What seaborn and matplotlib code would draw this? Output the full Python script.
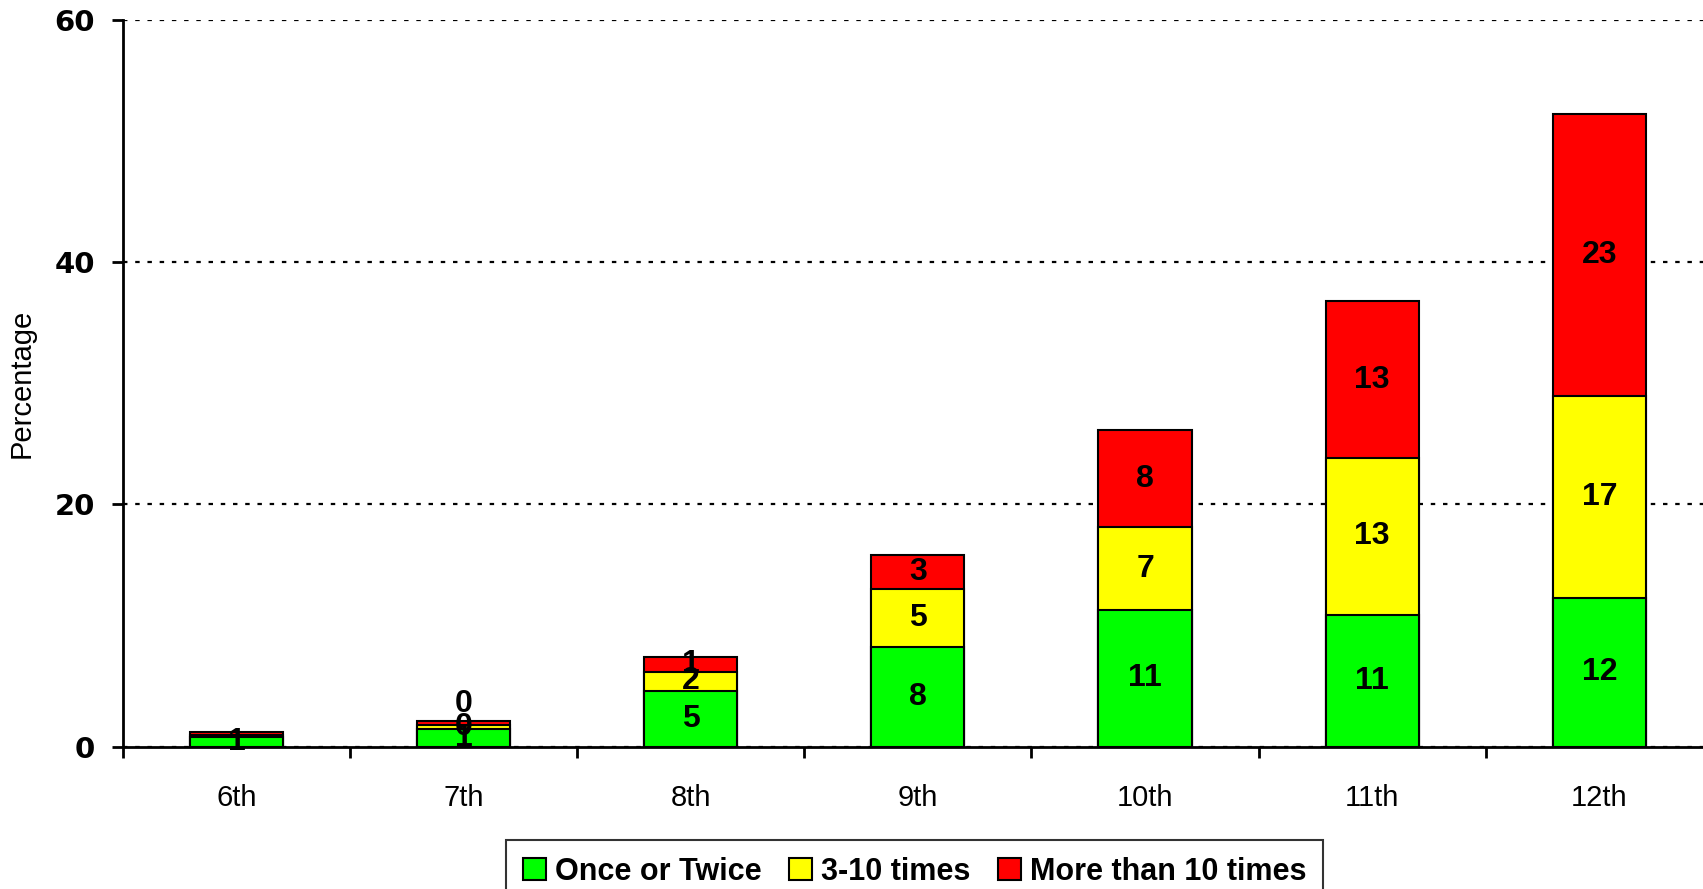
import matplotlib
matplotlib.use("Agg")
import matplotlib.pyplot as plt
from matplotlib.patches import Patch
from matplotlib.ticker import FixedLocator
import seaborn as sns

# data
grades = ["6th", "7th", "8th", "9th", "10th", "11th", "12th"]
once_twice = [0.8, 1.45, 4.6, 8.2, 11.3, 10.9, 12.3]
three_ten = [0.2, 0.35, 1.6, 4.8, 6.8, 12.9, 16.6]
more_ten = [0.25, 0.35, 1.2, 2.8, 8.0, 13.0, 23.3]
series_names = ["Once or Twice", "3-10 times", "More than 10 times"]
colors = ["#00FF00", "#FFFF00", "#FF0000"]

sns.set_style("ticks")
plt.rcParams["font.family"] = ["Liberation Sans", "DejaVu Sans"]
plt.rcParams["text.color"] = "black"
plt.rcParams["axes.labelcolor"] = "black"
plt.rcParams["xtick.color"] = "black"
plt.rcParams["ytick.color"] = "black"

fig = plt.figure(figsize=(17.03, 8.89), dpi=100)
ax = fig.add_axes([0.0722, 0.16, 0.9336, 0.818])

layers = [once_twice, three_ten, more_ten]
# cumulative tops so the taller bars are drawn first (stacked look)
tops = []
run = [0] * len(grades)
for vals in layers:
    run = [a + b for a, b in zip(run, vals)]
    tops.append(run)

for top, col in reversed(list(zip(tops, colors))):
    sns.barplot(x=grades, y=top, color=col, saturation=1, width=0.41,
                edgecolor="black", linewidth=1.5, ax=ax, zorder=3)

# value labels in the middle of each segment
for k, vals in enumerate(layers):
    for i, v in enumerate(vals):
        if v < 0.3:
            continue
        base = tops[k][i] - v
        y = base + v / 2
        off = 0
        if k == len(layers) - 1 and v < 0.5:
            y = tops[k][i]
            off = 12
        ax.annotate(f"{v:.0f}", (i, y), xytext=(0, off), textcoords="offset points",
                    ha="center", va="center", fontsize=23, fontweight="bold",
                    color="black", zorder=5)

ax.set_xlim(-0.5, len(grades) - 0.5)
ax.set_ylim(0, 60)
ax.set_yticks([0, 20, 40, 60])
ax.yaxis.grid(True, color="black", linestyle=(0, (2, 3.5)), linewidth=1.6, zorder=0)
ax.set_axisbelow(True)

for s in ["top", "right"]:
    ax.spines[s].set_visible(False)
for s in ["left", "bottom"]:
    ax.spines[s].set_linewidth(2)
    ax.spines[s].set_color("black")

ax.xaxis.set_minor_locator(FixedLocator([i - 0.5 for i in range(len(grades) + 1)]))
ax.tick_params(axis="x", which="major", length=0, pad=27, labelsize=21)
ax.tick_params(axis="x", which="minor", length=8, width=2, direction="out", color="black")
ax.tick_params(axis="y", length=8, width=2, color="black", pad=12)
for lab in ax.get_yticklabels():
    lab.set_fontfamily("DejaVu Sans")
    lab.set_fontweight("bold")
    lab.set_fontsize(21)

ax.set_xlabel("")
ax.set_ylabel("Percentage", fontsize=21, labelpad=14)

handles = [Patch(facecolor=c, edgecolor="black", linewidth=1.5, label=n)
           for c, n in zip(colors, series_names)]
leg = fig.legend(handles=handles, loc="upper center", bbox_to_anchor=(0.537, 0.055),
                 ncol=3, frameon=True, fancybox=False, edgecolor="black",
                 prop={"weight": "bold", "size": 22}, handlelength=0.75, handleheight=0.75,
                 handletextpad=0.3, columnspacing=0.9, borderpad=0.55, borderaxespad=0)
leg.get_frame().set_linewidth(1.5)

fig.savefig("out.png", dpi=100)
